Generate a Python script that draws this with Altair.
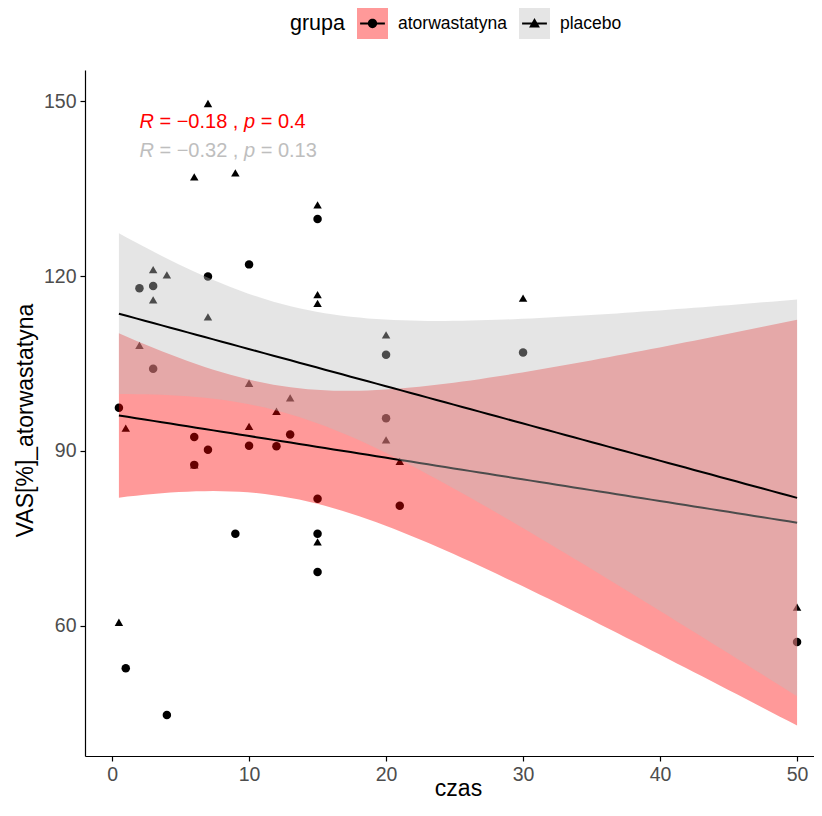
import math
import numpy as np
import pandas as pd
import altair as alt

# ---------------- data ----------------
group_names = ["atorwastatyna", "placebo"]
group_colors = ["#FF0000", "#BEBEBE"]

ator_czas = [0.5, 1, 2, 3, 3, 4, 6, 6, 7, 7, 9, 10, 10, 12, 13, 15, 15, 15, 15, 20, 20, 21, 30, 50]
ator_vas = [97.4, 52.7, 117.9, 118.3, 104.1, 44.7, 92.4, 87.6, 119.9, 90.2, 75.8, 122.0,
            90.9, 90.8, 92.8, 129.8, 81.8, 75.8, 69.2, 106.5, 95.6, 80.6, 106.9, 57.2]

# (6, 87.6) lies hidden under an atorwastatyna circle in the reference
plac_czas = [0.5, 1, 2, 3, 3, 4, 6, 6, 7, 7, 9, 10, 10, 12, 13, 15, 15, 15, 15, 20, 20, 21, 30, 50]
plac_vas = [60.6, 93.9, 108.1, 121.1, 115.9, 120.2, 137.0, 87.6, 149.6, 113.0, 137.7, 101.6, 94.2,
            96.8, 99.1, 132.2, 116.8, 115.3, 74.4, 109.9, 91.9, 88.2, 116.2, 63.2]

cor_r = ["−0.18", "−0.32"]
cor_p = ["0.4", "0.13"]
label_x = [2.0, 2.0]
label_y = [145.4, 140.5]

x_ticks = [0, 10, 20, 30, 40, 50]
y_ticks = [60, 90, 120, 150]

FONT = "Liberation Sans"


# ---------------- statistics (lm smooth with 95% CI) ----------------
def t_quantile(p, df):
    c = math.gamma((df + 1) / 2) / (math.sqrt(df * math.pi) * math.gamma(df / 2))
    grid = np.linspace(0, 12, 240001)
    pdf = c * (1 + grid ** 2 / df) ** (-(df + 1) / 2)
    cdf = 0.5 + np.concatenate([[0.0], np.cumsum((pdf[1:] + pdf[:-1]) / 2 * np.diff(grid))])
    return float(np.interp(p, cdf, grid))


def smooth(xs, ys, name, n=80):
    x = np.asarray(xs, float)
    y = np.asarray(ys, float)
    k = len(x)
    xb = x.mean()
    sxx = ((x - xb) ** 2).sum()
    b = ((x - xb) * (y - y.mean())).sum() / sxx
    a = y.mean() - b * xb
    s = math.sqrt(((y - a - b * x) ** 2).sum() / (k - 2))
    t = t_quantile(0.975, k - 2)
    g = np.linspace(x.min(), x.max(), n)
    f = a + b * g
    se = s * np.sqrt(1 / k + (g - xb) ** 2 / sxx)
    return pd.DataFrame({"czas": g, "fit": f, "lo": f - t * se, "hi": f + t * se, "grupa": name})


# placebo rows first so that the circles are drawn on top
pts = pd.concat([
    pd.DataFrame({"czas": plac_czas, "vas": plac_vas, "grupa": group_names[1]}),
    pd.DataFrame({"czas": ator_czas, "vas": ator_vas, "grupa": group_names[0]}),
], ignore_index=True)

fit = pd.concat([
    smooth(ator_czas, ator_vas, group_names[0]),
    smooth(plac_czas, plac_vas, group_names[1]),
], ignore_index=True)

ann = pd.DataFrame({
    "grupa": group_names,
    "lx": label_x,
    "ly": label_y,
    "seg2": ["= " + r + " ," for r in cor_r],
    "seg4": ["= " + p for p in cor_p],
    "R": ["R", "R"],
    "P": ["p", "p"],
})

# ---------------- scales / axes ----------------
xs = alt.Scale(domain=[-1.975, 51.236], nice=False, zero=False)
ys = alt.Scale(domain=[37.65, 155.35], nice=False, zero=False)
fill_scale = alt.Scale(domain=group_names, range=group_colors)
text_scale = alt.Scale(domain=group_names, range=group_colors)

x_axis = alt.Axis(values=x_ticks, title="czas", titleX=373, titleY=39,
                  titleBaseline="alphabetic", titleAnchor="start", titleAlign="center")
y_axis = alt.Axis(values=y_ticks, title="VAS[%]_atorwastatyna", titleX=-53, titleY=350,
                  titleBaseline="alphabetic", titleAlign="center", titleAnchor="start")

X = lambda f: alt.X(f, type="quantitative", scale=xs, axis=x_axis)
Y = lambda f: alt.Y(f, type="quantitative", scale=ys, axis=y_axis)

legend_common = dict(
    orient="none", legendY=-62, direction="horizontal",
    labelFont=FONT, labelFontSize=17.5, labelOffset=10, columnPadding=12,
    symbolSize=961, symbolStrokeWidth=0, padding=0,
)

fill_legend = alt.Legend(
    legendX=205, title="grupa", titleOrient="left", titleFont=FONT, titleFontSize=21.5,
    titleFontWeight="normal", titlePadding=12, titleAnchor="middle", titleBaseline="middle",
    symbolType="square", symbolOpacity=0.4, titleColor="black", labelColor="black",
    **legend_common)
key_legend = alt.Legend(
    legendX=272, title=None, symbolFillColor="black", symbolOpacity=1,
    labelColor="rgba(0,0,0,0)", **legend_common)

key_paths = [
    "M-0.8,-0.07H0.8V0.07H-0.8Z M-0.3,0A0.3,0.3,0,1,1,0.3,0A0.3,0.3,0,1,1,-0.3,0Z",
    "M-0.8,-0.07H0.8V0.07H-0.8Z M0,-0.36L0.35,0.25H-0.35Z",
]

# ---------------- layers ----------------
points = alt.Chart(pts).mark_point(filled=True, opacity=1, size=72, clip=True).encode(
    x=X("czas"), y=Y("vas"),
    shape=alt.Shape("grupa:N", scale=alt.Scale(domain=group_names, range=["circle", "triangle-up"]),
                    legend=None),
    color=alt.value("black"),
    order=alt.Order("ord:Q"),
).transform_calculate(ord="datum.grupa == 'placebo' ? 0 : 1")


def band(name):
    return alt.Chart(fit).transform_filter(alt.datum.grupa == name).mark_area(
        opacity=0.4, clip=True).encode(
        x=X("czas"), y=Y("lo"), y2="hi",
        fill=alt.Fill("grupa:N", scale=fill_scale, legend=fill_legend),
    )


def line(name):
    return alt.Chart(fit).transform_filter(alt.datum.grupa == name).mark_line(
        color="black", strokeWidth=2, clip=True).encode(x=X("czas"), y=Y("fit"))


def seg(field, dx, italic):
    kw = dict(align="left", baseline="alphabetic", font=FONT, fontSize=20, dx=dx)
    if italic:
        kw["fontStyle"] = "italic"
    return alt.Chart(ann).mark_text(**kw).encode(
        x=X("lx"), y=Y("ly"), text=alt.Text(field + ":N"),
        color=alt.Color("grupa:N", scale=text_scale, legend=None),
    )


key_layer = alt.Chart(pts).transform_filter("datum.czas > 1000").mark_point(
    filled=True, color="black", opacity=1).encode(
    x=X("czas"), y=Y("vas"),
    shape=alt.Shape("grupa:N", scale=alt.Scale(domain=group_names, range=key_paths),
                    legend=key_legend),
)

chart = alt.layer(
    points,
    band(group_names[0]), line(group_names[0]),
    band(group_names[1]), line(group_names[1]),
    seg("R", 0, True), seg("seg2", 20, False), seg("P", 104.5, True), seg("seg4", 121.2, False),
    key_layer,
).resolve_scale(shape="independent").resolve_legend(shape="independent").properties(
    width=729, height=686,
    autosize=alt.AutoSizeParams(type="none"),
    padding={"left": 77, "top": 62, "right": 0, "bottom": 45},
).configure_view(stroke=None).configure_axis(
    grid=False, domainColor="black", domainWidth=1.2, tickColor="black", tickWidth=1.2,
    tickSize=5, labelColor="#4D4D4D", labelFont=FONT, labelFontSize=19.5, labelPadding=4,
    titleFont=FONT, titleFontSize=23, titleFontWeight="normal", titleColor="black",
)

chart.save("out.html", embed_options={"renderer": "svg", "actions": False})
